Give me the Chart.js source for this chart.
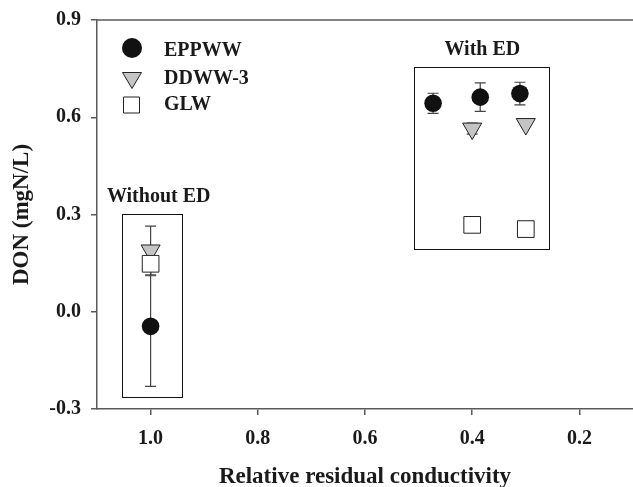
<!DOCTYPE html>
<html><head><meta charset="utf-8">
<script src="https://cdn.jsdelivr.net/npm/chart.js@4"></script>
<style>html,body{margin:0;padding:0;background:#fff}</style>
</head><body>
<canvas id="c" width="633" height="487"></canvas>
<script>
// ---- data ----
const seriesNames = ['EPPWW', 'DDWW-3', 'GLW'];
const eppwwX = [1.0, 0.473, 0.385, 0.311];
const eppwwY = [-0.045, 0.643, 0.662, 0.673];
const eppwwErr = [0.185, 0.031, 0.044, 0.035];
const ddwwX = [1.0, 0.40, 0.30];
const ddwwY = [0.189, 0.565, 0.579];
const ddwwErr = [0.075, 0.017, 0];
const glwX = [1.0, 0.40, 0.30];
const glwY = [0.148, 0.268, 0.255];
const glwErr = [0.037, 0, 0];
const xTicks = [1.0, 0.8, 0.6, 0.4, 0.2];
const yTicks = [-0.3, 0.0, 0.3, 0.6, 0.9];
const groupLabels = ['Without ED', 'With ED'];
// group boxes in data units: [xLeft, xRight, yTop, yBottom]
const groupBoxes = [[1.054, 0.942, 0.301, -0.262], [0.509, 0.257, 0.755, 0.193]];
const xTitle = 'Relative residual conductivity';
const yTitle = 'DON (mgN/L)';

const FONT = '"Liberation Serif", "Times New Roman", serif';
const AXIS = '#5a5a5a';
const TXT = '#1a1a1a';
const labelShift = [7, 1];

function pts(xs, ys) { return xs.map((x, i) => ({x: x, y: ys[i]})); }

const errSets = [
  {xs: eppwwX, ys: eppwwY, es: eppwwErr},
  {xs: ddwwX, ys: ddwwY, es: ddwwErr},
  {xs: glwX, ys: glwY, es: glwErr}
];

const decor = {
  id: 'decor',
  beforeDatasetsDraw(chart) {
    const {ctx, scales: {x, y}} = chart;
    ctx.save();
    ctx.strokeStyle = '#444';
    ctx.lineWidth = 1.2;
    errSets.forEach(s => {
      s.xs.forEach((xv, i) => {
        const e = s.es[i];
        if (!e) return;
        const px = x.getPixelForValue(xv);
        const t = y.getPixelForValue(s.ys[i] + e);
        const b = y.getPixelForValue(s.ys[i] - e);
        ctx.beginPath();
        ctx.moveTo(px, t); ctx.lineTo(px, b);
        ctx.moveTo(px - 5.5, t); ctx.lineTo(px + 5.5, t);
        ctx.moveTo(px - 5.5, b); ctx.lineTo(px + 5.5, b);
        ctx.stroke();
      });
    });
    // group boxes
    ctx.strokeStyle = '#111';
    ctx.lineWidth = 1;
    ctx.fillStyle = TXT;
    ctx.font = 'bold 20px ' + FONT;
    ctx.textAlign = 'center';
    ctx.textBaseline = 'alphabetic';
    groupBoxes.forEach((g, i) => {
      const l = x.getPixelForValue(g[0]), r = x.getPixelForValue(g[1]);
      const t = y.getPixelForValue(g[2]), b = y.getPixelForValue(g[3]);
      ctx.strokeRect(Math.round(l) + 0.5, Math.round(t) + 0.5, Math.round(r - l), Math.round(b - t));
      ctx.fillText(groupLabels[i], (l + r) / 2 + labelShift[i], t - 12);
    });
    ctx.restore();
  },
  afterDraw(chart) {
    const {ctx, chartArea: ca} = chart;
    ctx.save();
    // top frame line
    ctx.strokeStyle = AXIS;
    ctx.lineWidth = 1.5;
    ctx.beginPath();
    ctx.moveTo(ca.left, ca.top); ctx.lineTo(ca.right, ca.top);
    ctx.stroke();
    // legend
    const lx = 132;
    const rows = [48, 78, 105];
    ctx.fillStyle = '#111';
    ctx.beginPath(); ctx.arc(lx, rows[0], 10, 0, Math.PI * 2); ctx.fill();
    ctx.fillStyle = '#c4c4c4'; ctx.strokeStyle = '#222'; ctx.lineWidth = 1;
    ctx.beginPath();
    ctx.moveTo(lx - 9.5, rows[1] - 5.5); ctx.lineTo(lx + 9.5, rows[1] - 5.5); ctx.lineTo(lx, rows[1] + 10.5);
    ctx.closePath(); ctx.fill(); ctx.stroke();
    ctx.fillStyle = '#fff';
    ctx.beginPath(); ctx.rect(lx - 8.5, rows[2] - 8, 16, 16); ctx.fill(); ctx.stroke();
    ctx.fillStyle = TXT;
    ctx.font = 'bold 20px ' + FONT;
    ctx.textAlign = 'left';
    ctx.textBaseline = 'middle';
    const ty = [50, 77.5, 104];
    seriesNames.forEach((n, i) => ctx.fillText(n, 164, ty[i] + 1));
    // axis titles
    ctx.font = 'bold 23px ' + FONT;
    ctx.textAlign = 'center';
    ctx.fillText(xTitle, (ca.left + ca.right) / 2, 477);
    ctx.translate(22, (ca.top + ca.bottom) / 2);
    ctx.rotate(-Math.PI / 2);
    ctx.fillText(yTitle, 0, 0);
    ctx.restore();
  }
};

const tickFont = {family: FONT, size: 20, weight: 'bold'};

new Chart(document.getElementById('c'), {
  type: 'scatter',
  data: {
    datasets: [
      {label: seriesNames[0], data: pts(eppwwX, eppwwY), order: 0,
       pointStyle: 'circle', pointRadius: 8.8, backgroundColor: '#111', borderColor: '#111', borderWidth: 0},
      {label: seriesNames[1], data: pts(ddwwX, ddwwY), order: 2,
       pointStyle: 'triangle', rotation: 180, pointRadius: 11, backgroundColor: '#c4c4c4', borderColor: '#222', borderWidth: 1},
      {label: seriesNames[2], data: pts(glwX, glwY), order: 1,
       pointStyle: 'rect', pointRadius: 11.8, backgroundColor: '#fff', borderColor: '#222', borderWidth: 1}
    ]
  },
  options: {
    responsive: false,
    animation: false,
    events: [],
    layout: {autoPadding: false, padding: {top: 20, right: 0, left: 0, bottom: 0}},
    plugins: {legend: {display: false}, tooltip: {enabled: false}},
    scales: {
      x: {
        type: 'linear', reverse: true, min: 0.1, max: 1.1,
        afterBuildTicks: s => { s.ticks = xTicks.map(v => ({value: v})); },
        afterFit: s => { s.height = 78; s.paddingLeft = 0; s.paddingRight = 0; },
        grid: {drawOnChartArea: false, drawTicks: true, tickLength: 6, color: AXIS, lineWidth: 1.5},
        border: {display: true, color: AXIS, width: 1.5},
        ticks: {font: tickFont, color: TXT, padding: 12, maxRotation: 0, autoSkip: false,
                callback: v => Number(v).toFixed(1)}
      },
      y: {
        type: 'linear', min: -0.3, max: 0.9,
        afterBuildTicks: s => { s.ticks = yTicks.map(v => ({value: v})); },
        afterFit: s => { s.width = 97; s.paddingTop = 0; s.paddingBottom = 0; },
        grid: {drawOnChartArea: false, drawTicks: true, tickLength: 6, color: AXIS, lineWidth: 1.5},
        border: {display: true, color: AXIS, width: 1.5},
        ticks: {font: tickFont, color: TXT, padding: 10, autoSkip: false,
                callback: v => Number(v).toFixed(1)}
      }
    }
  },
  plugins: [decor]
});
</script>
</body></html>
